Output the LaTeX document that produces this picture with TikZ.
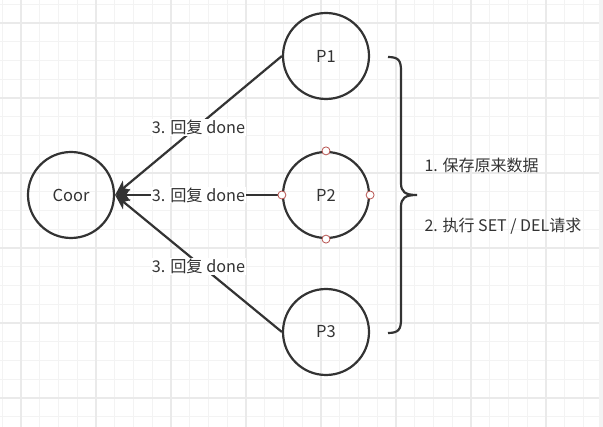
\documentclass[tikz,border=0pt]{standalone}
\usepackage{fontspec}
\setmainfont{Noto Sans CJK SC}
\usetikzlibrary{arrows.meta}
\definecolor{ink}{HTML}{333333}
\definecolor{gridminor}{HTML}{F3F3F3}
\definecolor{gridmajor}{HTML}{EAEAEA}
\definecolor{portred}{HTML}{B85450}
\begin{document}
\begin{tikzpicture}[x=1pt, y=-1pt, >={Stealth[length=15pt,width=12pt,inset=4pt]},
  peer/.style={circle, draw=ink, line width=2.2pt, minimum size=86pt, inner sep=0pt, text=ink, font=\fontsize{16.5}{18}\selectfont},
  reply/.style={->, draw=ink, line width=2.2pt},
  replytext/.style={fill=white, text=ink, inner sep=1pt, font=\fontsize{16.2}{18}\selectfont},
  port/.style={circle, draw=portred, fill=white, line width=0.8pt, minimum size=8pt, inner sep=0pt},
  steptext/.style={text=ink, anchor=west, font=\fontsize{16}{18}\selectfont}]
\useasboundingbox (0,0) rectangle (603,427);
\fill[white] (0,0) rectangle (603,427);
% grid
\foreach \i in {0,...,32}
  \draw[gridminor, line width=1pt] ({2.25+18.75*\i},0) -- ++(0,427);
\foreach \i in {0,...,22}
  \draw[gridminor, line width=1pt] (0,{4.25+18.75*\i}) -- ++(603,0);
\foreach \i in {0,...,7}
  \draw[gridmajor, line width=1.2pt] ({21+75*\i},0) -- ++(0,427);
\foreach \i in {0,...,5}
  \draw[gridmajor, line width=1.2pt] (0,{23+75*\i}) -- ++(603,0);
\fill[gridminor] (599,0) rectangle (603,427);
% nodes
\node[peer] (coor) at (71,195) {Coor};
\node[peer] (p1) at (326,56) {P1};
\node[peer] (p2) at (326,195) {P2};
\node[peer] (p3) at (326,332) {P3};
% replies
\draw[reply] (p1.west) -- node[replytext, pos=.5, yshift=-2pt]{3. 回复 done} (coor.east);
\draw[reply] (p2.west) -- node[replytext, pos=.5]{3. 回复 done} (coor.east);
\draw[reply] (p3.west) -- node[replytext, pos=.5, yshift=-3pt]{3. 回复 done} (coor.east);
\foreach \a in {north,south,east,west}
  \node[port] at (p2.\a) {};
% brace
\draw[ink, line width=2.2pt] (388,57) .. controls (399,57) and (401,61) .. (401,71) -- (401,183)
  .. controls (401,192) and (405,195) .. (417,195) .. controls (405,195) and (401,198) .. (401,207)
  -- (401,319) .. controls (401,329) and (399,333) .. (388,333);
\node[steptext] (save) at (421,165) {1. 保存原来数据};
\node[steptext] (exec) at (421,226) {2. 执行 SET / DEL请求};
\end{tikzpicture}
\end{document}
